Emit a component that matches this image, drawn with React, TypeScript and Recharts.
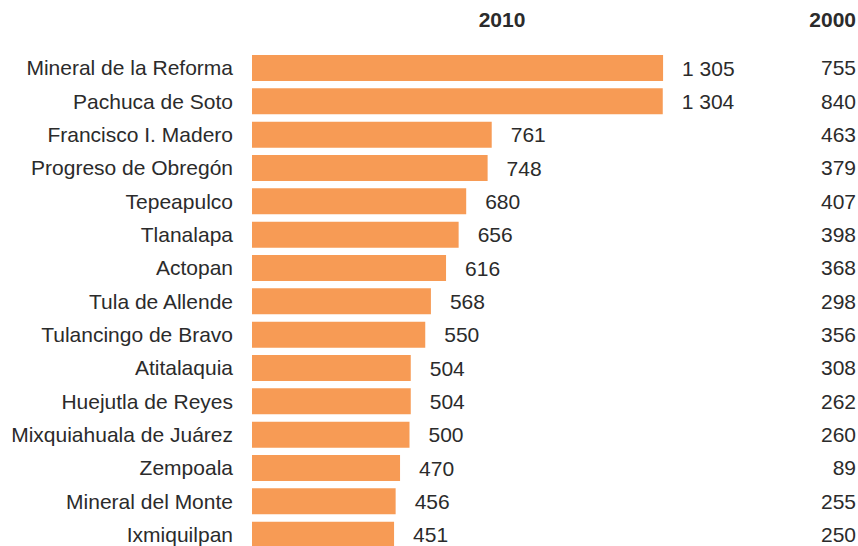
import { Bar, BarChart, LabelList, XAxis, YAxis } from 'recharts';

const municipios = [
  'Mineral de la Reforma',
  'Pachuca de Soto',
  'Francisco I. Madero',
  'Progreso de Obregón',
  'Tepeapulco',
  'Tlanalapa',
  'Actopan',
  'Tula de Allende',
  'Tulancingo de Bravo',
  'Atitalaquia',
  'Huejutla de Reyes',
  'Mixquiahuala de Juárez',
  'Zempoala',
  'Mineral del Monte',
  'Ixmiquilpan',
];

const valores2010 = [1305, 1304, 761, 748, 680, 656, 616, 568, 550, 504, 504, 500, 470, 456, 451];
const valores2000 = [755, 840, 463, 379, 407, 398, 368, 298, 356, 308, 262, 260, 89, 255, 250];

const data = municipios.map((name, i) => ({
  name,
  v2010: valores2010[i],
  v2000: valores2000[i],
}));

const TEXT = '#2b2b2b';
const FONT = 'Liberation Sans, Arial, sans-serif';

const fmt = (v: number) => (v >= 1000 ? `${Math.floor(v / 1000)} ${String(v % 1000).padStart(3, '0')}` : String(v));

const LeftTick = ({ x, y, payload }: any) => (
  <text x={x - 11} y={y} dy={7.5} textAnchor="end" fontSize={21} fill={TEXT} fontFamily={FONT}>
    {payload.value}
  </text>
);

const RightTick = ({ y, payload }: any) => {
  const row = data.find((d) => d.name === payload.value);
  return (
    <text x={856} y={y} dy={7.5} textAnchor="end" fontSize={21} fill={TEXT} fontFamily={FONT}>
      {row ? row.v2000 : ''}
    </text>
  );
};

const ValueLabel = ({ x, y, width, height, value }: any) => (
  <text
    x={x + width + 19}
    y={y + height / 2}
    dy={7.5}
    textAnchor="start"
    fontSize={21}
    fill={TEXT}
    fontFamily={FONT}
  >
    {fmt(value)}
  </text>
);

export default function App() {
  return (
    <div
      style={{
        position: 'absolute',
        left: 0,
        top: 0,
        width: 858,
        height: 546,
        overflow: 'hidden',
        background: '#fff',
      }}
    >
      <BarChart
        width={858}
        height={551}
        data={data}
        layout="vertical"
        margin={{ top: 51, right: 0, left: 0, bottom: 0 }}
        barCategoryGap={7}
      >
        <XAxis type="number" domain={[0, 1800]} hide />
        <YAxis
          yAxisId="left"
          type="category"
          dataKey="name"
          width={252}
          axisLine={false}
          tickLine={false}
          interval={0}
          tick={<LeftTick />}
        />
        <YAxis
          yAxisId="right"
          orientation="right"
          type="category"
          dataKey="name"
          width={39}
          axisLine={false}
          tickLine={false}
          interval={0}
          tick={<RightTick />}
        />
        <Bar yAxisId="left" dataKey="v2010" fill="#F79B55" barSize={26} isAnimationActive={false}>
          <LabelList dataKey="v2010" content={<ValueLabel />} />
        </Bar>
        <text x={502} y={27} textAnchor="middle" fontSize={21} fontWeight="bold" fill={TEXT} fontFamily={FONT}>
          2010
        </text>
        <text x={856} y={27} textAnchor="end" fontSize={21} fontWeight="bold" fill={TEXT} fontFamily={FONT}>
          2000
        </text>
      </BarChart>
    </div>
  );
}
